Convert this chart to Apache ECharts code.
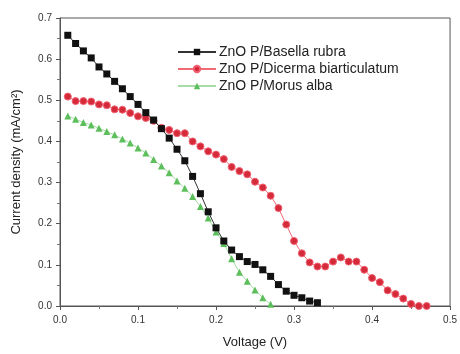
<!DOCTYPE html>
<html>
<head>
<meta charset="utf-8">
<script src="https://cdn.jsdelivr.net/npm/echarts@6/dist/echarts.min.js"></script>
<style>
  html, body { margin: 0; padding: 0; background: #fff; }
  #chart { width: 460px; height: 354px; }
</style>
</head>
<body>
<div id="chart"></div>
<script>
// voltage steps (V)
const voltage = [0.01, 0.02, 0.03, 0.04, 0.05, 0.06, 0.07, 0.08, 0.09, 0.10,
  0.11, 0.12, 0.13, 0.14, 0.15, 0.16, 0.17, 0.18, 0.19, 0.20,
  0.21, 0.22, 0.23, 0.24, 0.25, 0.26, 0.27, 0.28, 0.29, 0.30,
  0.31, 0.32, 0.33, 0.34, 0.35, 0.36, 0.37, 0.38, 0.39, 0.40,
  0.41, 0.42, 0.43, 0.44, 0.45, 0.46, 0.47];

// current density (mA/cm2)
const basellaRubra = [0.658, 0.638, 0.620, 0.603, 0.581, 0.564, 0.546, 0.528, 0.509, 0.490,
  0.470, 0.452, 0.431, 0.408, 0.381, 0.353, 0.315, 0.273, 0.229, 0.190,
  0.158, 0.136, 0.120, 0.108, 0.101, 0.088, 0.072, 0.052, 0.036, 0.026,
  0.020, 0.012, 0.008];

const dicermaBiarticulatum = [0.509, 0.498, 0.498, 0.497, 0.490, 0.488, 0.478, 0.477, 0.469, 0.461,
  0.457, 0.450, 0.433, 0.428, 0.420, 0.420, 0.400, 0.388, 0.376, 0.368,
  0.357, 0.338, 0.328, 0.320, 0.302, 0.288, 0.268, 0.238, 0.198, 0.158,
  0.128, 0.106, 0.096, 0.096, 0.108, 0.118, 0.108, 0.108, 0.088, 0.068,
  0.058, 0.038, 0.029, 0.018, 0.005, 0.0, 0.0];

const morusAlba = [0.462, 0.454, 0.446, 0.440, 0.432, 0.424, 0.416, 0.406, 0.396, 0.384,
  0.372, 0.356, 0.340, 0.324, 0.304, 0.286, 0.266, 0.242, 0.214, 0.180,
  0.152, 0.115, 0.082, 0.060, 0.039, 0.020, 0.004];

const seriesNames = ['ZnO P/Basella rubra', 'ZnO P/Dicerma biarticulatum', 'ZnO P/Morus alba'];

function pairs(ys) {
  return ys.map((y, i) => [voltage[i], y]);
}

const chart = echarts.init(document.getElementById('chart'), null, { renderer: 'canvas' });

const font = 'Liberation Sans, Arial, sans-serif';
const axisText = { color: '#333', fontSize: 10, fontFamily: font };

chart.setOption({
  animation: false,
  grid: { left: 60, right: 8, top: 18, bottom: 44, show: true, borderColor: '#555', borderWidth: 1 },
  legend: {
    orient: 'vertical',
    left: 172,
    top: 40,
    itemWidth: 38,
    itemHeight: 8,
    itemGap: 3,
    textStyle: { color: '#222', fontSize: 14, fontFamily: font, padding: [0, 0, 0, -2] },
    data: seriesNames
  },
  xAxis: {
    type: 'value',
    min: 0, max: 0.5, interval: 0.1,
    name: 'Voltage (V)',
    nameLocation: 'middle',
    nameGap: 30,
    nameTextStyle: { color: '#222', fontSize: 13, fontFamily: font },
    axisLine: { lineStyle: { color: '#555' } },
    axisTick: { length: 4, lineStyle: { color: '#555' } },
    minorTick: { show: true, splitNumber: 2, length: 3, lineStyle: { color: '#777' } },
    splitLine: { show: false },
    axisLabel: Object.assign({ formatter: v => v.toFixed(1), margin: 9 }, axisText)
  },
  yAxis: {
    type: 'value',
    min: 0, max: 0.7, interval: 0.1,
    name: 'Current density (mA/cm²)',
    nameLocation: 'middle',
    nameGap: 37,
    nameTextStyle: { color: '#222', fontSize: 13, fontFamily: font },
    axisLine: { show: true, lineStyle: { color: '#555' } },
    axisTick: { show: true, length: 4, lineStyle: { color: '#555' } },
    minorTick: { show: true, splitNumber: 2, length: 3, lineStyle: { color: '#777' } },
    splitLine: { show: false },
    axisLabel: Object.assign({ formatter: v => v.toFixed(1), margin: 8 }, axisText)
  },
  series: [
    {
      name: seriesNames[0],
      type: 'line',
      data: pairs(basellaRubra),
      symbol: 'rect',
      symbolSize: 7,
      itemStyle: { color: '#111' },
      lineStyle: { color: '#333', width: 1 },
      z: 3
    },
    {
      name: seriesNames[1],
      type: 'line',
      data: pairs(dicermaBiarticulatum),
      symbol: 'circle',
      symbolSize: 7,
      itemStyle: { color: '#d42a3a', borderColor: '#f06070', borderWidth: 1 },
      lineStyle: { color: '#f26a74', width: 1 },
      z: 2
    },
    {
      name: seriesNames[2],
      type: 'line',
      data: pairs(morusAlba),
      symbol: 'triangle',
      symbolSize: 7,
      itemStyle: { color: '#5cbf5c' },
      lineStyle: { color: '#a6dca6', width: 1 },
      z: 1
    }
  ]
});
</script>
</body>
</html>
